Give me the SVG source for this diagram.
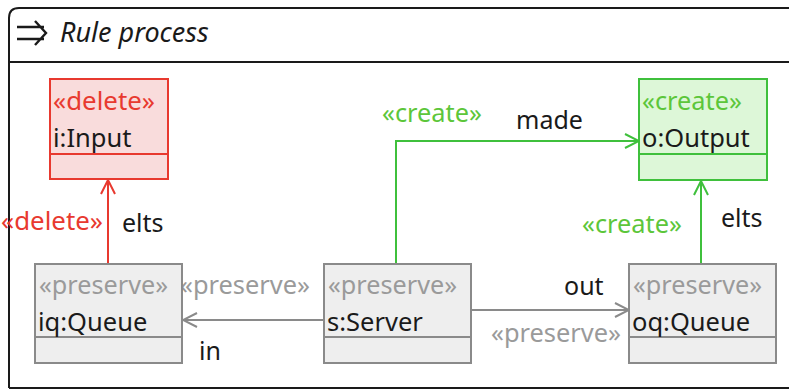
<svg xmlns="http://www.w3.org/2000/svg" width="792" height="390" viewBox="0 0 792 390">
  <style>
    text { font-family: "Noto Sans", "Open Sans", sans-serif; font-size: 24.5px; }
    .name { fill: #1a1a1a; font-size: 25.5px; }
    .lbl { fill: #1a1a1a; font-size: 25px; }
    .st-del { fill: #e8392f; }
    .st-cre { fill: #5cc63a; }
    .st-pre { fill: #9a9a9a; }
    .box-del { fill: #f9dcdc; stroke: #e8392f; stroke-width: 2; }
    .box-cre { fill: #ddf7d8; stroke: #3fc03c; stroke-width: 2; }
    .box-pre { fill: #eeeeee; stroke: #8a8a8a; stroke-width: 2; }
    .e-del { fill: none; stroke: #e8392f; stroke-width: 2; }
    .e-cre { fill: none; stroke: #3fc03c; stroke-width: 2; }
    .e-pre { fill: none; stroke: #8a8a8a; stroke-width: 2; }
  </style>
  <defs>
    <marker id="ah-del" viewBox="0 0 16 16" refX="15" refY="8" markerWidth="16" markerHeight="16" markerUnits="userSpaceOnUse" orient="auto">
      <path d="M1,1 L15,8 L1,15" fill="none" stroke="#e8392f" stroke-width="2"/>
    </marker>
    <marker id="ah-cre" viewBox="0 0 16 16" refX="15" refY="8" markerWidth="16" markerHeight="16" markerUnits="userSpaceOnUse" orient="auto">
      <path d="M1,1 L15,8 L1,15" fill="none" stroke="#3fc03c" stroke-width="2"/>
    </marker>
    <marker id="ah-pre" viewBox="0 0 16 16" refX="15" refY="8" markerWidth="16" markerHeight="16" markerUnits="userSpaceOnUse" orient="auto">
      <path d="M1,1 L15,8 L1,15" fill="none" stroke="#8a8a8a" stroke-width="2"/>
    </marker>
  </defs>

  <rect width="792" height="390" fill="#ffffff"/>

  <!-- rule frame -->
  <g id="frame">
    <path d="M9,388 L9,18 Q9,8 19,8 L789,8 M9,388 L789,388" fill="none" stroke="#1a1a1a" stroke-width="2"/>
    <line x1="9" y1="62" x2="789" y2="62" stroke="#1a1a1a" stroke-width="2"/>
    <path d="M17,27 L44,27 M17,39 L44,39 M35,21 L46,33 L35,45" fill="none" stroke="#1a1a1a" stroke-width="2.4"/>
    <text x="60" y="42" font-style="italic" style="font-size:27px" class="name">Rule process</text>
  </g>

  <!-- connectors -->
  <g id="edges">
    <line x1="108" y1="264" x2="108" y2="180" class="e-del" marker-end="url(#ah-del)"/>
    <text x="1" y="230" class="st-del" textLength="102" lengthAdjust="spacingAndGlyphs">«delete»</text>
    <text x="122" y="232" class="lbl">elts</text>

    <polyline points="396,264 396,141 639,141" class="e-cre" marker-end="url(#ah-cre)"/>
    <text x="382" y="122" class="st-cre" textLength="100" lengthAdjust="spacingAndGlyphs">«create»</text>
    <text x="516" y="129" class="lbl">made</text>

    <line x1="701" y1="264" x2="701" y2="181" class="e-cre" marker-end="url(#ah-cre)"/>
    <text x="582" y="233" class="st-cre" textLength="100" lengthAdjust="spacingAndGlyphs">«create»</text>
    <text x="721" y="227" class="lbl">elts</text>

    <line x1="324" y1="320" x2="183" y2="320" class="e-pre" marker-end="url(#ah-pre)"/>
    <text x="180" y="294" class="st-pre" textLength="130" lengthAdjust="spacingAndGlyphs">«preserve»</text>
    <text x="199" y="360" class="lbl">in</text>

    <line x1="471" y1="310" x2="629" y2="310" class="e-pre" marker-end="url(#ah-pre)"/>
    <text x="564" y="295" class="lbl">out</text>
    <text x="491" y="342" class="st-pre" textLength="130" lengthAdjust="spacingAndGlyphs">«preserve»</text>
  </g>

  <!-- nodes -->
  <g id="i-input">
    <rect x="50" y="79" width="118" height="100" class="box-del"/>
    <line x1="50" y1="154" x2="168" y2="154" stroke="#e8392f" stroke-width="2"/>
    <text x="53" y="110" class="st-del" textLength="102" lengthAdjust="spacingAndGlyphs">«delete»</text>
    <text x="53" y="147" class="name">i:Input</text>
  </g>

  <g id="o-output">
    <rect x="639" y="79" width="128" height="101" class="box-cre"/>
    <line x1="639" y1="154" x2="767" y2="154" stroke="#3fc03c" stroke-width="2"/>
    <text x="642" y="110" class="st-cre" textLength="100" lengthAdjust="spacingAndGlyphs">«create»</text>
    <text x="642" y="147" class="name">o:Output</text>
  </g>

  <g id="iq-queue">
    <rect x="35" y="264" width="147" height="99" class="box-pre"/>
    <line x1="35" y1="337" x2="182" y2="337" stroke="#8a8a8a" stroke-width="2"/>
    <text x="39" y="294" class="st-pre" textLength="129" lengthAdjust="spacingAndGlyphs">«preserve»</text>
    <text x="38" y="331" class="name">iq:Queue</text>
  </g>

  <g id="s-server">
    <rect x="324" y="264" width="147" height="99" class="box-pre"/>
    <line x1="324" y1="337" x2="471" y2="337" stroke="#8a8a8a" stroke-width="2"/>
    <text x="328" y="294" class="st-pre" textLength="129" lengthAdjust="spacingAndGlyphs">«preserve»</text>
    <text x="327" y="331" class="name">s:Server</text>
  </g>

  <g id="oq-queue">
    <rect x="629" y="264" width="147" height="99" class="box-pre"/>
    <line x1="629" y1="337" x2="776" y2="337" stroke="#8a8a8a" stroke-width="2"/>
    <text x="633" y="294" class="st-pre" textLength="129" lengthAdjust="spacingAndGlyphs">«preserve»</text>
    <text x="632" y="331" class="name">oq:Queue</text>
  </g>
</svg>
